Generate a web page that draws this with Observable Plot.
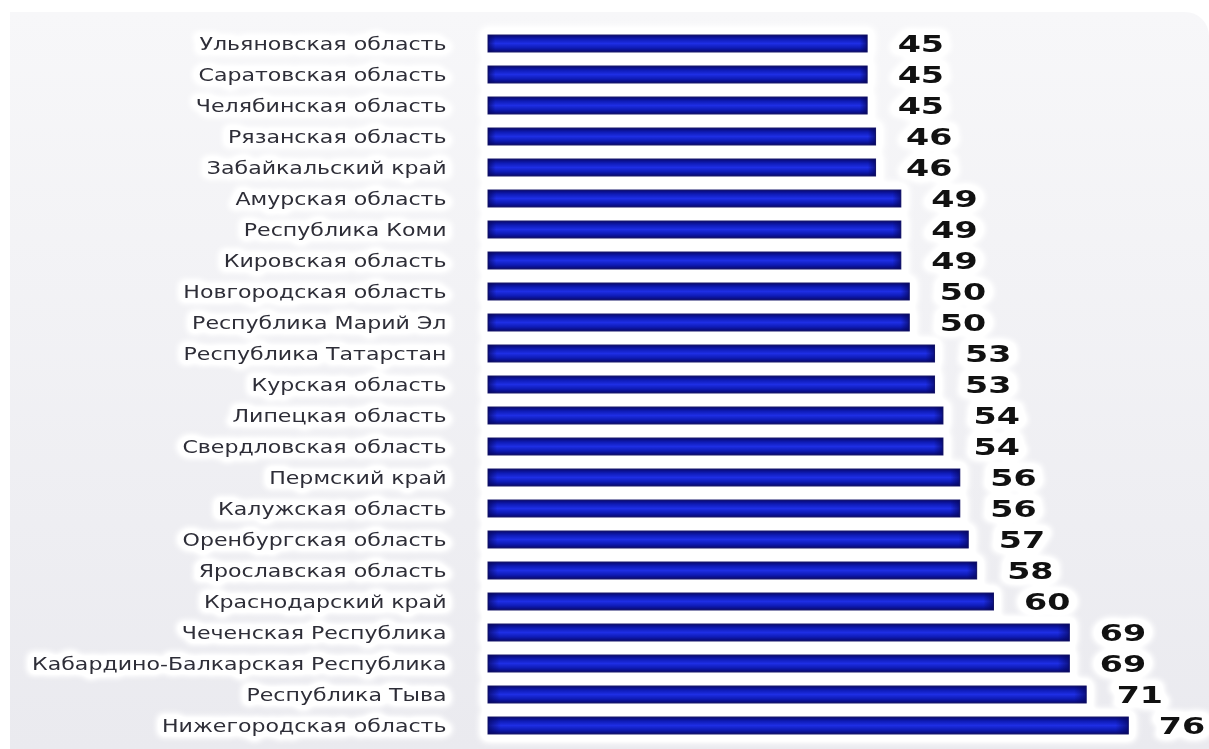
<!DOCTYPE html>
<html><head><meta charset="utf-8">
<script src="https://cdn.jsdelivr.net/npm/d3@7"></script>
<script src="https://cdn.jsdelivr.net/npm/@observablehq/plot@0.6"></script>
<style>
html,body{margin:0;padding:0;background:#fff;width:1209px;height:749px;overflow:hidden}
#panel{position:absolute;left:10px;top:12px;width:1199px;height:737px;background:linear-gradient(#f7f7f9,#eaeaef);border-top-right-radius:24px}
#chart{position:absolute;left:0;top:0}
</style></head><body><div id="panel"></div><div id="chart"></div>
<script>
const regions = [
  "Ульяновская область","Саратовская область","Челябинская область","Рязанская область",
  "Забайкальский край","Амурская область","Республика Коми","Кировская область",
  "Новгородская область","Республика Марий Эл","Республика Татарстан","Курская область",
  "Липецкая область","Свердловская область","Пермский край","Калужская область",
  "Оренбургская область","Ярославская область","Краснодарский край","Чеченская Республика",
  "Кабардино-Балкарская Республика","Республика Тыва","Нижегородская область"
];
const values = [45,45,45,46,46,49,49,49,50,50,53,53,54,54,56,56,57,58,60,69,69,71,76];
const data = regions.map((r, i) => ({region: r, value: values[i]}));

const fontFamily = "'DejaVu Sans', sans-serif";
const plot = Plot.plot({
  width: 1209, height: 749,
  marginLeft: 488, marginRight: 47, marginTop: 23.5, marginBottom: 4.2,
  style: {background: "transparent", fontFamily},
  x: {domain: [0, 80], axis: null},
  y: {domain: regions, paddingInner: 0.445, paddingOuter: 0.1, axis: null},
  marks: [
    Plot.barX(data, {x: "value", y: "region", fill: "white", stroke: "white", strokeWidth: 16, strokeLinejoin: "round"}),
    Plot.text(data, {x: 0, y: "region", text: "region", textAnchor: "end", dx: -42, dy: 1, fontSize: 17, fill: "white", stroke: "white", strokeWidth: 10, strokeLinejoin: "round"}),
    Plot.text(data, {x: "value", y: "region", text: d => String(d.value), textAnchor: "start", dx: 30, dy: 1, fontSize: 23, fontWeight: "bold", fill: "white", stroke: "white", strokeWidth: 12, strokeLinejoin: "round"}),
    Plot.text(data, {x: 0, y: "region", text: "region", textAnchor: "end", dx: -42, dy: 1, fontSize: 17, fill: "#2e2e38"}),
    Plot.text(data, {x: "value", y: "region", text: d => String(d.value), textAnchor: "start", dx: 30, dy: 1, fontSize: 23, fontWeight: "bold", fill: "#111"}),
    Plot.barX(data, {x: "value", y: "region", fill: "url(#barGrad)", stroke: "#1c1c6e", strokeWidth: 1}),
    Plot.barX(data, {x: "value", y: "region", fill: "url(#endGrad)"})
  ]
});

const ns = "http://www.w3.org/2000/svg";
const defs = document.createElementNS(ns, "defs");
defs.innerHTML = `
  <linearGradient id="barGrad" x1="0" y1="0" x2="0" y2="1">
    <stop offset="0" stop-color="#08086e"/>
    <stop offset="0.25" stop-color="#0f1cb8"/>
    <stop offset="0.5" stop-color="#1e2ee4"/>
    <stop offset="0.75" stop-color="#0f1cb8"/>
    <stop offset="1" stop-color="#08086e"/>
  </linearGradient>
  <linearGradient id="endGrad" x1="0" y1="0" x2="1" y2="0">
    <stop offset="0" stop-color="#06065a" stop-opacity="0.7"/>
    <stop offset="0.02" stop-color="#06065a" stop-opacity="0"/>
    <stop offset="0.98" stop-color="#06065a" stop-opacity="0"/>
    <stop offset="1" stop-color="#06065a" stop-opacity="0.7"/>
  </linearGradient>
  <filter id="glow" x="-5%" y="-5%" width="110%" height="110%">
    <feGaussianBlur stdDeviation="3"/>
    <feComponentTransfer><feFuncA type="linear" slope="1.6"/></feComponentTransfer>
  </filter>`;
plot.insertBefore(defs, plot.firstChild);

const groups = [...plot.children].filter(e => e.tagName.toLowerCase() === "g");
function stretch(g, s) {
  if (!g) return;
  g.querySelectorAll("text").forEach(t => {
    const tr = t.getAttribute("transform");
    if (tr) t.setAttribute("transform", tr + ` scale(${s},1)`);
  });
}
if (groups.length === 7) {
  stretch(groups[1], 1.3); stretch(groups[3], 1.3);
  stretch(groups[2], 1.45); stretch(groups[4], 1.45);
  [0, 1, 2].forEach(i => groups[i].setAttribute("filter", "url(#glow)"));
}

document.getElementById("chart").appendChild(plot);
</script>
</body></html>
